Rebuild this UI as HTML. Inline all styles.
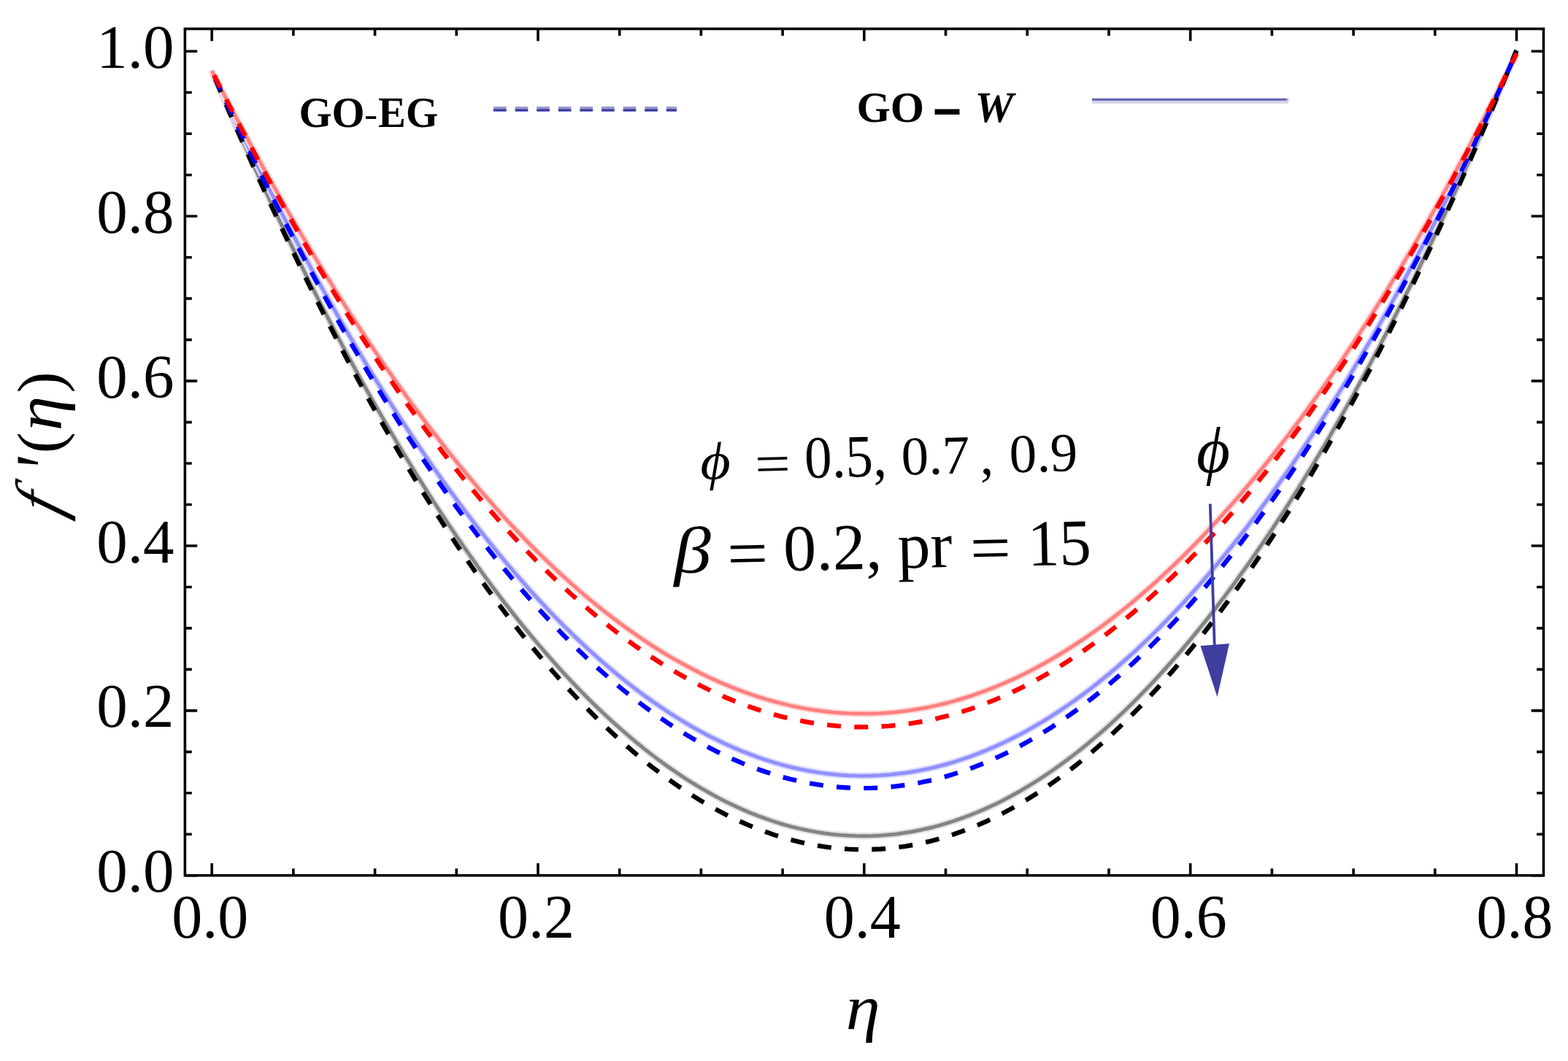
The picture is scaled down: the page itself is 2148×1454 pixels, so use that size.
<!DOCTYPE html>
<html><head><meta charset="utf-8"><style>
html,body{margin:0;padding:0;background:#fff;}
svg{display:block;}
text{font-family:"Liberation Serif",serif;fill:#000;font-kerning:none;}
</style></head><body>
<svg width="2148" height="1454" viewBox="0 0 2148 1454">
<rect width="2148" height="1454" fill="#fff"/>
<rect x="253.4" y="39.5" width="1861.1" height="1160.2" fill="none" stroke="#000" stroke-width="3.6"/>
<path d="M290.2 1199.7V1182.9M290.2 39.5V56.3M401.9 1199.7V1190.3M401.9 39.5V48.9M513.6 1199.7V1190.3M513.6 39.5V48.9M625.3 1199.7V1190.3M625.3 39.5V48.9M737.0 1199.7V1182.9M737.0 39.5V56.3M848.7 1199.7V1190.3M848.7 39.5V48.9M960.4 1199.7V1190.3M960.4 39.5V48.9M1072.1 1199.7V1190.3M1072.1 39.5V48.9M1183.8 1199.7V1182.9M1183.8 39.5V56.3M1295.5 1199.7V1190.3M1295.5 39.5V48.9M1407.2 1199.7V1190.3M1407.2 39.5V48.9M1519.0 1199.7V1190.3M1519.0 39.5V48.9M1630.7 1199.7V1182.9M1630.7 39.5V56.3M1742.4 1199.7V1190.3M1742.4 39.5V48.9M1854.1 1199.7V1190.3M1854.1 39.5V48.9M1965.8 1199.7V1190.3M1965.8 39.5V48.9M2077.5 1199.7V1182.9M2077.5 39.5V56.3M253.4 1199.8H270.2M2114.5 1199.8H2097.7M253.4 1143.3H262.8M2114.5 1143.3H2105.1M253.4 1086.8H262.8M2114.5 1086.8H2105.1M253.4 1030.4H262.8M2114.5 1030.4H2105.1M253.4 973.9H270.2M2114.5 973.9H2097.7M253.4 917.4H262.8M2114.5 917.4H2105.1M253.4 860.9H262.8M2114.5 860.9H2105.1M253.4 804.5H262.8M2114.5 804.5H2105.1M253.4 748.0H270.2M2114.5 748.0H2097.7M253.4 691.5H262.8M2114.5 691.5H2105.1M253.4 635.0H262.8M2114.5 635.0H2105.1M253.4 578.6H262.8M2114.5 578.6H2105.1M253.4 522.1H270.2M2114.5 522.1H2097.7M253.4 465.6H262.8M2114.5 465.6H2105.1M253.4 409.1H262.8M2114.5 409.1H2105.1M253.4 352.7H262.8M2114.5 352.7H2105.1M253.4 296.2H270.2M2114.5 296.2H2097.7M253.4 239.7H262.8M2114.5 239.7H2105.1M253.4 183.2H262.8M2114.5 183.2H2105.1M253.4 126.8H262.8M2114.5 126.8H2105.1M253.4 70.3H270.2M2114.5 70.3H2097.7" stroke="#000" stroke-width="3.6" fill="none"/>
<path d="M290.2,97.1 L301.4,123.0 L312.5,148.6 L323.7,173.8 L334.9,198.8 L346.1,223.4 L357.2,247.7 L368.4,271.7 L379.6,295.3 L390.7,318.7 L401.9,341.7 L413.1,364.4 L424.2,386.8 L435.4,408.9 L446.6,430.6 L457.8,452.0 L468.9,473.1 L480.1,493.9 L491.3,514.4 L502.4,534.5 L513.6,554.3 L524.8,573.8 L536.0,593.0 L547.1,611.8 L558.3,630.3 L569.5,648.5 L580.6,666.4 L591.8,684.0 L603.0,701.2 L614.1,718.1 L625.3,734.7 L636.5,750.9 L647.7,766.8 L658.8,782.4 L670.0,797.7 L681.2,812.7 L692.3,827.3 L703.5,841.6 L714.7,855.6 L725.8,869.2 L737.0,882.5 L748.2,895.5 L759.4,908.2 L770.5,920.5 L781.7,932.5 L792.9,944.2 L804.0,955.6 L815.2,966.6 L826.4,977.3 L837.6,987.7 L848.7,997.7 L859.9,1007.4 L871.1,1016.8 L882.2,1025.9 L893.4,1034.6 L904.6,1043.0 L915.7,1051.1 L926.9,1058.8 L938.1,1066.3 L949.3,1073.3 L960.4,1080.1 L971.6,1086.5 L982.8,1092.6 L993.9,1098.4 L1005.1,1103.8 L1016.3,1108.9 L1027.5,1113.7 L1038.6,1118.1 L1049.8,1122.2 L1061.0,1126.0 L1072.1,1129.5 L1083.3,1132.6 L1094.5,1135.4 L1105.6,1137.8 L1116.8,1139.9 L1128.0,1141.7 L1139.2,1143.2 L1150.3,1144.3 L1161.5,1145.1 L1172.7,1145.6 L1183.8,1145.7 L1195.0,1145.5 L1206.2,1145.0 L1217.4,1144.1 L1228.5,1142.9 L1239.7,1141.3 L1250.9,1139.5 L1262.0,1137.3 L1273.2,1134.7 L1284.4,1131.9 L1295.5,1128.6 L1306.7,1125.1 L1317.9,1121.2 L1329.1,1117.0 L1340.2,1112.5 L1351.4,1107.6 L1362.6,1102.4 L1373.7,1096.9 L1384.9,1091.0 L1396.1,1084.8 L1407.2,1078.2 L1418.4,1071.3 L1429.6,1064.1 L1440.8,1056.5 L1451.9,1048.7 L1463.1,1040.4 L1474.3,1031.9 L1485.4,1023.0 L1496.6,1013.7 L1507.8,1004.2 L1519.0,994.3 L1530.1,984.0 L1541.3,973.5 L1552.5,962.5 L1563.6,951.3 L1574.8,939.7 L1586.0,927.8 L1597.1,915.5 L1608.3,902.9 L1619.5,890.0 L1630.7,876.7 L1641.8,863.1 L1653.0,849.2 L1664.2,834.9 L1675.3,820.3 L1686.5,805.4 L1697.7,790.1 L1708.9,774.5 L1720.0,758.5 L1731.2,742.2 L1742.4,725.6 L1753.5,708.6 L1764.7,691.3 L1775.9,673.6 L1787.0,655.6 L1798.2,637.3 L1809.4,618.7 L1820.6,599.7 L1831.7,580.3 L1842.9,560.7 L1854.1,540.7 L1865.2,520.3 L1876.4,499.6 L1887.6,478.6 L1898.8,457.2 L1909.9,435.5 L1921.1,413.5 L1932.3,391.1 L1943.4,368.4 L1954.6,345.4 L1965.8,322.0 L1976.9,298.3 L1988.1,274.2 L1999.3,249.8 L2010.5,225.0 L2021.6,200.0 L2032.8,174.6 L2044.0,148.8 L2055.1,122.7 L2066.3,96.3 L2077.5,69.5" stroke="#e2e2e2" stroke-width="9.5" fill="none"/>
<path d="M290.2,97.1 L301.4,123.0 L312.5,148.6 L323.7,173.8 L334.9,198.8 L346.1,223.4 L357.2,247.7 L368.4,271.7 L379.6,295.3 L390.7,318.7 L401.9,341.7 L413.1,364.4 L424.2,386.8 L435.4,408.9 L446.6,430.6 L457.8,452.0 L468.9,473.1 L480.1,493.9 L491.3,514.4 L502.4,534.5 L513.6,554.3 L524.8,573.8 L536.0,593.0 L547.1,611.8 L558.3,630.3 L569.5,648.5 L580.6,666.4 L591.8,684.0 L603.0,701.2 L614.1,718.1 L625.3,734.7 L636.5,750.9 L647.7,766.8 L658.8,782.4 L670.0,797.7 L681.2,812.7 L692.3,827.3 L703.5,841.6 L714.7,855.6 L725.8,869.2 L737.0,882.5 L748.2,895.5 L759.4,908.2 L770.5,920.5 L781.7,932.5 L792.9,944.2 L804.0,955.6 L815.2,966.6 L826.4,977.3 L837.6,987.7 L848.7,997.7 L859.9,1007.4 L871.1,1016.8 L882.2,1025.9 L893.4,1034.6 L904.6,1043.0 L915.7,1051.1 L926.9,1058.8 L938.1,1066.3 L949.3,1073.3 L960.4,1080.1 L971.6,1086.5 L982.8,1092.6 L993.9,1098.4 L1005.1,1103.8 L1016.3,1108.9 L1027.5,1113.7 L1038.6,1118.1 L1049.8,1122.2 L1061.0,1126.0 L1072.1,1129.5 L1083.3,1132.6 L1094.5,1135.4 L1105.6,1137.8 L1116.8,1139.9 L1128.0,1141.7 L1139.2,1143.2 L1150.3,1144.3 L1161.5,1145.1 L1172.7,1145.6 L1183.8,1145.7 L1195.0,1145.5 L1206.2,1145.0 L1217.4,1144.1 L1228.5,1142.9 L1239.7,1141.3 L1250.9,1139.5 L1262.0,1137.3 L1273.2,1134.7 L1284.4,1131.9 L1295.5,1128.6 L1306.7,1125.1 L1317.9,1121.2 L1329.1,1117.0 L1340.2,1112.5 L1351.4,1107.6 L1362.6,1102.4 L1373.7,1096.9 L1384.9,1091.0 L1396.1,1084.8 L1407.2,1078.2 L1418.4,1071.3 L1429.6,1064.1 L1440.8,1056.5 L1451.9,1048.7 L1463.1,1040.4 L1474.3,1031.9 L1485.4,1023.0 L1496.6,1013.7 L1507.8,1004.2 L1519.0,994.3 L1530.1,984.0 L1541.3,973.5 L1552.5,962.5 L1563.6,951.3 L1574.8,939.7 L1586.0,927.8 L1597.1,915.5 L1608.3,902.9 L1619.5,890.0 L1630.7,876.7 L1641.8,863.1 L1653.0,849.2 L1664.2,834.9 L1675.3,820.3 L1686.5,805.4 L1697.7,790.1 L1708.9,774.5 L1720.0,758.5 L1731.2,742.2 L1742.4,725.6 L1753.5,708.6 L1764.7,691.3 L1775.9,673.6 L1787.0,655.6 L1798.2,637.3 L1809.4,618.7 L1820.6,599.7 L1831.7,580.3 L1842.9,560.7 L1854.1,540.7 L1865.2,520.3 L1876.4,499.6 L1887.6,478.6 L1898.8,457.2 L1909.9,435.5 L1921.1,413.5 L1932.3,391.1 L1943.4,368.4 L1954.6,345.4 L1965.8,322.0 L1976.9,298.3 L1988.1,274.2 L1999.3,249.8 L2010.5,225.0 L2021.6,200.0 L2032.8,174.6 L2044.0,148.8 L2055.1,122.7 L2066.3,96.3 L2077.5,69.5" stroke="#848484" stroke-width="5" fill="none"/>
<path d="M290.2,97.1 L301.4,120.9 L312.5,144.5 L323.7,167.8 L334.9,190.8 L346.1,213.5 L357.2,235.8 L368.4,257.9 L379.6,279.8 L390.7,301.3 L401.9,322.5 L413.1,343.4 L424.2,364.0 L435.4,384.4 L446.6,404.4 L457.8,424.1 L468.9,443.6 L480.1,462.7 L491.3,481.6 L502.4,500.1 L513.6,518.4 L524.8,536.3 L536.0,554.0 L547.1,571.3 L558.3,588.4 L569.5,605.2 L580.6,621.6 L591.8,637.8 L603.0,653.7 L614.1,669.2 L625.3,684.5 L636.5,699.5 L647.7,714.2 L658.8,728.5 L670.0,742.6 L681.2,756.4 L692.3,769.9 L703.5,783.0 L714.7,795.9 L725.8,808.5 L737.0,820.8 L748.2,832.7 L759.4,844.4 L770.5,855.8 L781.7,866.8 L792.9,877.6 L804.0,888.1 L815.2,898.2 L826.4,908.1 L837.6,917.6 L848.7,926.9 L859.9,935.9 L871.1,944.5 L882.2,952.9 L893.4,960.9 L904.6,968.6 L915.7,976.1 L926.9,983.2 L938.1,990.0 L949.3,996.6 L960.4,1002.8 L971.6,1008.7 L982.8,1014.3 L993.9,1019.6 L1005.1,1024.6 L1016.3,1029.4 L1027.5,1033.7 L1038.6,1037.8 L1049.8,1041.6 L1061.0,1045.1 L1072.1,1048.3 L1083.3,1051.2 L1094.5,1053.7 L1105.6,1056.0 L1116.8,1057.9 L1128.0,1059.6 L1139.2,1060.9 L1150.3,1062.0 L1161.5,1062.7 L1172.7,1063.1 L1183.8,1063.2 L1195.0,1063.1 L1206.2,1062.6 L1217.4,1061.8 L1228.5,1060.6 L1239.7,1059.2 L1250.9,1057.5 L1262.0,1055.5 L1273.2,1053.1 L1284.4,1050.5 L1295.5,1047.5 L1306.7,1044.3 L1317.9,1040.7 L1329.1,1036.8 L1340.2,1032.6 L1351.4,1028.1 L1362.6,1023.3 L1373.7,1018.2 L1384.9,1012.8 L1396.1,1007.1 L1407.2,1001.1 L1418.4,994.7 L1429.6,988.1 L1440.8,981.1 L1451.9,973.8 L1463.1,966.3 L1474.3,958.4 L1485.4,950.2 L1496.6,941.7 L1507.8,932.8 L1519.0,923.7 L1530.1,914.3 L1541.3,904.5 L1552.5,894.5 L1563.6,884.1 L1574.8,873.5 L1586.0,862.5 L1597.1,851.2 L1608.3,839.6 L1619.5,827.7 L1630.7,815.4 L1641.8,802.9 L1653.0,790.1 L1664.2,776.9 L1675.3,763.4 L1686.5,749.7 L1697.7,735.6 L1708.9,721.2 L1720.0,706.5 L1731.2,691.5 L1742.4,676.1 L1753.5,660.5 L1764.7,644.6 L1775.9,628.3 L1787.0,611.7 L1798.2,594.8 L1809.4,577.7 L1820.6,560.1 L1831.7,542.3 L1842.9,524.2 L1854.1,505.8 L1865.2,487.0 L1876.4,468.0 L1887.6,448.6 L1898.8,428.9 L1909.9,408.9 L1921.1,388.6 L1932.3,368.0 L1943.4,347.1 L1954.6,325.8 L1965.8,304.3 L1976.9,282.4 L1988.1,260.3 L1999.3,237.8 L2010.5,215.0 L2021.6,191.9 L2032.8,168.5 L2044.0,144.7 L2055.1,120.7 L2066.3,96.3 L2077.5,71.7" stroke="#dcdcff" stroke-width="9.5" fill="none"/>
<path d="M290.2,97.1 L301.4,120.9 L312.5,144.5 L323.7,167.8 L334.9,190.8 L346.1,213.5 L357.2,235.8 L368.4,257.9 L379.6,279.8 L390.7,301.3 L401.9,322.5 L413.1,343.4 L424.2,364.0 L435.4,384.4 L446.6,404.4 L457.8,424.1 L468.9,443.6 L480.1,462.7 L491.3,481.6 L502.4,500.1 L513.6,518.4 L524.8,536.3 L536.0,554.0 L547.1,571.3 L558.3,588.4 L569.5,605.2 L580.6,621.6 L591.8,637.8 L603.0,653.7 L614.1,669.2 L625.3,684.5 L636.5,699.5 L647.7,714.2 L658.8,728.5 L670.0,742.6 L681.2,756.4 L692.3,769.9 L703.5,783.0 L714.7,795.9 L725.8,808.5 L737.0,820.8 L748.2,832.7 L759.4,844.4 L770.5,855.8 L781.7,866.8 L792.9,877.6 L804.0,888.1 L815.2,898.2 L826.4,908.1 L837.6,917.6 L848.7,926.9 L859.9,935.9 L871.1,944.5 L882.2,952.9 L893.4,960.9 L904.6,968.6 L915.7,976.1 L926.9,983.2 L938.1,990.0 L949.3,996.6 L960.4,1002.8 L971.6,1008.7 L982.8,1014.3 L993.9,1019.6 L1005.1,1024.6 L1016.3,1029.4 L1027.5,1033.7 L1038.6,1037.8 L1049.8,1041.6 L1061.0,1045.1 L1072.1,1048.3 L1083.3,1051.2 L1094.5,1053.7 L1105.6,1056.0 L1116.8,1057.9 L1128.0,1059.6 L1139.2,1060.9 L1150.3,1062.0 L1161.5,1062.7 L1172.7,1063.1 L1183.8,1063.2 L1195.0,1063.1 L1206.2,1062.6 L1217.4,1061.8 L1228.5,1060.6 L1239.7,1059.2 L1250.9,1057.5 L1262.0,1055.5 L1273.2,1053.1 L1284.4,1050.5 L1295.5,1047.5 L1306.7,1044.3 L1317.9,1040.7 L1329.1,1036.8 L1340.2,1032.6 L1351.4,1028.1 L1362.6,1023.3 L1373.7,1018.2 L1384.9,1012.8 L1396.1,1007.1 L1407.2,1001.1 L1418.4,994.7 L1429.6,988.1 L1440.8,981.1 L1451.9,973.8 L1463.1,966.3 L1474.3,958.4 L1485.4,950.2 L1496.6,941.7 L1507.8,932.8 L1519.0,923.7 L1530.1,914.3 L1541.3,904.5 L1552.5,894.5 L1563.6,884.1 L1574.8,873.5 L1586.0,862.5 L1597.1,851.2 L1608.3,839.6 L1619.5,827.7 L1630.7,815.4 L1641.8,802.9 L1653.0,790.1 L1664.2,776.9 L1675.3,763.4 L1686.5,749.7 L1697.7,735.6 L1708.9,721.2 L1720.0,706.5 L1731.2,691.5 L1742.4,676.1 L1753.5,660.5 L1764.7,644.6 L1775.9,628.3 L1787.0,611.7 L1798.2,594.8 L1809.4,577.7 L1820.6,560.1 L1831.7,542.3 L1842.9,524.2 L1854.1,505.8 L1865.2,487.0 L1876.4,468.0 L1887.6,448.6 L1898.8,428.9 L1909.9,408.9 L1921.1,388.6 L1932.3,368.0 L1943.4,347.1 L1954.6,325.8 L1965.8,304.3 L1976.9,282.4 L1988.1,260.3 L1999.3,237.8 L2010.5,215.0 L2021.6,191.9 L2032.8,168.5 L2044.0,144.7 L2055.1,120.7 L2066.3,96.3 L2077.5,71.7" stroke="#9090ff" stroke-width="5" fill="none"/>
<path d="M290.2,97.1 L301.4,118.8 L312.5,140.3 L323.7,161.5 L334.9,182.5 L346.1,203.2 L357.2,223.6 L368.4,243.8 L379.6,263.6 L390.7,283.3 L401.9,302.6 L413.1,321.7 L424.2,340.5 L435.4,359.0 L446.6,377.3 L457.8,395.3 L468.9,413.0 L480.1,430.5 L491.3,447.7 L502.4,464.6 L513.6,481.2 L524.8,497.6 L536.0,513.7 L547.1,529.5 L558.3,545.1 L569.5,560.4 L580.6,575.4 L591.8,590.1 L603.0,604.6 L614.1,618.8 L625.3,632.7 L636.5,646.4 L647.7,659.8 L658.8,672.9 L670.0,685.7 L681.2,698.3 L692.3,710.6 L703.5,722.6 L714.7,734.3 L725.8,745.8 L737.0,757.0 L748.2,767.9 L759.4,778.5 L770.5,788.9 L781.7,799.0 L792.9,808.8 L804.0,818.3 L815.2,827.6 L826.4,836.6 L837.6,845.3 L848.7,853.8 L859.9,861.9 L871.1,869.8 L882.2,877.4 L893.4,884.8 L904.6,891.8 L915.7,898.6 L926.9,905.1 L938.1,911.3 L949.3,917.3 L960.4,923.0 L971.6,928.4 L982.8,933.5 L993.9,938.3 L1005.1,942.9 L1016.3,947.2 L1027.5,951.2 L1038.6,954.9 L1049.8,958.4 L1061.0,961.5 L1072.1,964.4 L1083.3,967.1 L1094.5,969.4 L1105.6,971.5 L1116.8,973.2 L1128.0,974.7 L1139.2,976.0 L1150.3,976.9 L1161.5,977.6 L1172.7,978.0 L1183.8,978.1 L1195.0,977.9 L1206.2,977.5 L1217.4,976.7 L1228.5,975.7 L1239.7,974.4 L1250.9,972.8 L1262.0,971.0 L1273.2,968.9 L1284.4,966.4 L1295.5,963.8 L1306.7,960.8 L1317.9,957.5 L1329.1,954.0 L1340.2,950.2 L1351.4,946.1 L1362.6,941.7 L1373.7,937.0 L1384.9,932.1 L1396.1,926.9 L1407.2,921.4 L1418.4,915.6 L1429.6,909.5 L1440.8,903.2 L1451.9,896.5 L1463.1,889.6 L1474.3,882.4 L1485.4,875.0 L1496.6,867.2 L1507.8,859.2 L1519.0,850.9 L1530.1,842.3 L1541.3,833.4 L1552.5,824.2 L1563.6,814.7 L1574.8,805.0 L1586.0,795.0 L1597.1,784.7 L1608.3,774.1 L1619.5,763.3 L1630.7,752.1 L1641.8,740.7 L1653.0,729.0 L1664.2,717.0 L1675.3,704.7 L1686.5,692.1 L1697.7,679.3 L1708.9,666.2 L1720.0,652.8 L1731.2,639.1 L1742.4,625.1 L1753.5,610.8 L1764.7,596.3 L1775.9,581.5 L1787.0,566.4 L1798.2,551.0 L1809.4,535.3 L1820.6,519.3 L1831.7,503.1 L1842.9,486.6 L1854.1,469.7 L1865.2,452.7 L1876.4,435.3 L1887.6,417.6 L1898.8,399.7 L1909.9,381.4 L1921.1,362.9 L1932.3,344.1 L1943.4,325.0 L1954.6,305.7 L1965.8,286.0 L1976.9,266.1 L1988.1,245.9 L1999.3,225.4 L2010.5,204.6 L2021.6,183.5 L2032.8,162.2 L2044.0,140.5 L2055.1,118.6 L2066.3,96.4 L2077.5,73.9" stroke="#ffdcdc" stroke-width="9.5" fill="none"/>
<path d="M290.2,97.1 L301.4,118.8 L312.5,140.3 L323.7,161.5 L334.9,182.5 L346.1,203.2 L357.2,223.6 L368.4,243.8 L379.6,263.6 L390.7,283.3 L401.9,302.6 L413.1,321.7 L424.2,340.5 L435.4,359.0 L446.6,377.3 L457.8,395.3 L468.9,413.0 L480.1,430.5 L491.3,447.7 L502.4,464.6 L513.6,481.2 L524.8,497.6 L536.0,513.7 L547.1,529.5 L558.3,545.1 L569.5,560.4 L580.6,575.4 L591.8,590.1 L603.0,604.6 L614.1,618.8 L625.3,632.7 L636.5,646.4 L647.7,659.8 L658.8,672.9 L670.0,685.7 L681.2,698.3 L692.3,710.6 L703.5,722.6 L714.7,734.3 L725.8,745.8 L737.0,757.0 L748.2,767.9 L759.4,778.5 L770.5,788.9 L781.7,799.0 L792.9,808.8 L804.0,818.3 L815.2,827.6 L826.4,836.6 L837.6,845.3 L848.7,853.8 L859.9,861.9 L871.1,869.8 L882.2,877.4 L893.4,884.8 L904.6,891.8 L915.7,898.6 L926.9,905.1 L938.1,911.3 L949.3,917.3 L960.4,923.0 L971.6,928.4 L982.8,933.5 L993.9,938.3 L1005.1,942.9 L1016.3,947.2 L1027.5,951.2 L1038.6,954.9 L1049.8,958.4 L1061.0,961.5 L1072.1,964.4 L1083.3,967.1 L1094.5,969.4 L1105.6,971.5 L1116.8,973.2 L1128.0,974.7 L1139.2,976.0 L1150.3,976.9 L1161.5,977.6 L1172.7,978.0 L1183.8,978.1 L1195.0,977.9 L1206.2,977.5 L1217.4,976.7 L1228.5,975.7 L1239.7,974.4 L1250.9,972.8 L1262.0,971.0 L1273.2,968.9 L1284.4,966.4 L1295.5,963.8 L1306.7,960.8 L1317.9,957.5 L1329.1,954.0 L1340.2,950.2 L1351.4,946.1 L1362.6,941.7 L1373.7,937.0 L1384.9,932.1 L1396.1,926.9 L1407.2,921.4 L1418.4,915.6 L1429.6,909.5 L1440.8,903.2 L1451.9,896.5 L1463.1,889.6 L1474.3,882.4 L1485.4,875.0 L1496.6,867.2 L1507.8,859.2 L1519.0,850.9 L1530.1,842.3 L1541.3,833.4 L1552.5,824.2 L1563.6,814.7 L1574.8,805.0 L1586.0,795.0 L1597.1,784.7 L1608.3,774.1 L1619.5,763.3 L1630.7,752.1 L1641.8,740.7 L1653.0,729.0 L1664.2,717.0 L1675.3,704.7 L1686.5,692.1 L1697.7,679.3 L1708.9,666.2 L1720.0,652.8 L1731.2,639.1 L1742.4,625.1 L1753.5,610.8 L1764.7,596.3 L1775.9,581.5 L1787.0,566.4 L1798.2,551.0 L1809.4,535.3 L1820.6,519.3 L1831.7,503.1 L1842.9,486.6 L1854.1,469.7 L1865.2,452.7 L1876.4,435.3 L1887.6,417.6 L1898.8,399.7 L1909.9,381.4 L1921.1,362.9 L1932.3,344.1 L1943.4,325.0 L1954.6,305.7 L1965.8,286.0 L1976.9,266.1 L1988.1,245.9 L1999.3,225.4 L2010.5,204.6 L2021.6,183.5 L2032.8,162.2 L2044.0,140.5 L2055.1,118.6 L2066.3,96.4 L2077.5,73.9" stroke="#ff8080" stroke-width="5" fill="none"/>
<path d="M290.2,97.1 L301.4,123.4 L312.5,149.5 L323.7,175.2 L334.9,200.6 L346.1,225.6 L357.2,250.4 L368.4,274.8 L379.6,298.8 L390.7,322.6 L401.9,346.0 L413.1,369.1 L424.2,391.9 L435.4,414.4 L446.6,436.5 L457.8,458.3 L468.9,479.8 L480.1,500.9 L491.3,521.7 L502.4,542.2 L513.6,562.4 L524.8,582.2 L536.0,601.7 L547.1,620.9 L558.3,639.8 L569.5,658.3 L580.6,676.5 L591.8,694.3 L603.0,711.8 L614.1,729.0 L625.3,745.9 L636.5,762.5 L647.7,778.7 L658.8,794.5 L670.0,810.1 L681.2,825.3 L692.3,840.2 L703.5,854.7 L714.7,868.9 L725.8,882.8 L737.0,896.4 L748.2,909.6 L759.4,922.5 L770.5,935.1 L781.7,947.3 L792.9,959.2 L804.0,970.7 L815.2,982.0 L826.4,992.9 L837.6,1003.4 L848.7,1013.6 L859.9,1023.5 L871.1,1033.1 L882.2,1042.3 L893.4,1051.2 L904.6,1059.7 L915.7,1067.9 L926.9,1075.8 L938.1,1083.4 L949.3,1090.6 L960.4,1097.5 L971.6,1104.0 L982.8,1110.2 L993.9,1116.1 L1005.1,1121.6 L1016.3,1126.8 L1027.5,1131.6 L1038.6,1136.2 L1049.8,1140.3 L1061.0,1144.2 L1072.1,1147.7 L1083.3,1150.9 L1094.5,1153.7 L1105.6,1156.2 L1116.8,1158.4 L1128.0,1160.2 L1139.2,1161.7 L1150.3,1162.8 L1161.5,1163.6 L1172.7,1164.1 L1183.8,1164.2 L1195.0,1164.0 L1206.2,1163.5 L1217.4,1162.6 L1228.5,1161.3 L1239.7,1159.8 L1250.9,1157.9 L1262.0,1155.6 L1273.2,1153.1 L1284.4,1150.1 L1295.5,1146.9 L1306.7,1143.3 L1317.9,1139.3 L1329.1,1135.0 L1340.2,1130.4 L1351.4,1125.5 L1362.6,1120.2 L1373.7,1114.5 L1384.9,1108.5 L1396.1,1102.2 L1407.2,1095.5 L1418.4,1088.5 L1429.6,1081.2 L1440.8,1073.5 L1451.9,1065.5 L1463.1,1057.1 L1474.3,1048.4 L1485.4,1039.3 L1496.6,1029.9 L1507.8,1020.2 L1519.0,1010.1 L1530.1,999.7 L1541.3,988.9 L1552.5,977.8 L1563.6,966.4 L1574.8,954.6 L1586.0,942.5 L1597.1,930.0 L1608.3,917.2 L1619.5,904.0 L1630.7,890.5 L1641.8,876.7 L1653.0,862.5 L1664.2,848.0 L1675.3,833.1 L1686.5,817.9 L1697.7,802.3 L1708.9,786.4 L1720.0,770.2 L1731.2,753.6 L1742.4,736.7 L1753.5,719.4 L1764.7,701.8 L1775.9,683.8 L1787.0,665.5 L1798.2,646.9 L1809.4,627.9 L1820.6,608.5 L1831.7,588.9 L1842.9,568.8 L1854.1,548.5 L1865.2,527.8 L1876.4,506.7 L1887.6,485.3 L1898.8,463.6 L1909.9,441.5 L1921.1,419.1 L1932.3,396.3 L1943.4,373.2 L1954.6,349.8 L1965.8,326.0 L1976.9,301.8 L1988.1,277.3 L1999.3,252.5 L2010.5,227.3 L2021.6,201.8 L2032.8,175.9 L2044.0,149.7 L2055.1,123.2 L2066.3,96.3 L2077.5,69.0" stroke="#000000" stroke-width="6.4" fill="none" stroke-dasharray="19 18.3" stroke-dashoffset="24.72"/>
<path d="M290.2,97.1 L301.4,121.3 L312.5,145.3 L323.7,169.0 L334.9,192.4 L346.1,215.5 L357.2,238.3 L368.4,260.7 L379.6,282.9 L390.7,304.8 L401.9,326.4 L413.1,347.7 L424.2,368.7 L435.4,389.4 L446.6,409.7 L457.8,429.8 L468.9,449.6 L480.1,469.1 L491.3,488.3 L502.4,507.1 L513.6,525.7 L524.8,544.0 L536.0,561.9 L547.1,579.6 L558.3,597.0 L569.5,614.0 L580.6,630.8 L591.8,647.2 L603.0,663.4 L614.1,679.2 L625.3,694.8 L636.5,710.0 L647.7,724.9 L658.8,739.5 L670.0,753.9 L681.2,767.9 L692.3,781.6 L703.5,795.0 L714.7,808.1 L725.8,820.9 L737.0,833.4 L748.2,845.5 L759.4,857.4 L770.5,869.0 L781.7,880.2 L792.9,891.2 L804.0,901.8 L815.2,912.2 L826.4,922.2 L837.6,931.9 L848.7,941.4 L859.9,950.5 L871.1,959.3 L882.2,967.8 L893.4,975.9 L904.6,983.8 L915.7,991.4 L926.9,998.7 L938.1,1005.6 L949.3,1012.2 L960.4,1018.6 L971.6,1024.6 L982.8,1030.3 L993.9,1035.7 L1005.1,1040.8 L1016.3,1045.6 L1027.5,1050.1 L1038.6,1054.2 L1049.8,1058.1 L1061.0,1061.6 L1072.1,1064.9 L1083.3,1067.8 L1094.5,1070.4 L1105.6,1072.7 L1116.8,1074.7 L1128.0,1076.4 L1139.2,1077.7 L1150.3,1078.8 L1161.5,1079.5 L1172.7,1080.0 L1183.8,1080.1 L1195.0,1079.9 L1206.2,1079.4 L1217.4,1078.6 L1228.5,1077.4 L1239.7,1076.0 L1250.9,1074.2 L1262.0,1072.2 L1273.2,1069.8 L1284.4,1067.1 L1295.5,1064.1 L1306.7,1060.8 L1317.9,1057.1 L1329.1,1053.2 L1340.2,1048.9 L1351.4,1044.4 L1362.6,1039.5 L1373.7,1034.3 L1384.9,1028.8 L1396.1,1022.9 L1407.2,1016.8 L1418.4,1010.4 L1429.6,1003.6 L1440.8,996.5 L1451.9,989.1 L1463.1,981.4 L1474.3,973.4 L1485.4,965.0 L1496.6,956.4 L1507.8,947.4 L1519.0,938.1 L1530.1,928.5 L1541.3,918.6 L1552.5,908.4 L1563.6,897.8 L1574.8,887.0 L1586.0,875.8 L1597.1,864.3 L1608.3,852.5 L1619.5,840.4 L1630.7,828.0 L1641.8,815.2 L1653.0,802.1 L1664.2,788.7 L1675.3,775.1 L1686.5,761.0 L1697.7,746.7 L1708.9,732.1 L1720.0,717.1 L1731.2,701.8 L1742.4,686.2 L1753.5,670.3 L1764.7,654.1 L1775.9,637.5 L1787.0,620.7 L1798.2,603.5 L1809.4,586.0 L1820.6,568.2 L1831.7,550.1 L1842.9,531.6 L1854.1,512.9 L1865.2,493.8 L1876.4,474.4 L1887.6,454.7 L1898.8,434.7 L1909.9,414.4 L1921.1,393.7 L1932.3,372.7 L1943.4,351.4 L1954.6,329.8 L1965.8,307.9 L1976.9,285.7 L1988.1,263.1 L1999.3,240.2 L2010.5,217.0 L2021.6,193.5 L2032.8,169.7 L2044.0,145.6 L2055.1,121.1 L2066.3,96.3 L2077.5,71.2" stroke="#0000ff" stroke-width="6.4" fill="none" stroke-dasharray="19 18.3" stroke-dashoffset="27.82"/>
<path d="M290.2,97.1 L301.4,119.3 L312.5,141.2 L323.7,162.9 L334.9,184.3 L346.1,205.4 L357.2,226.2 L368.4,246.8 L379.6,267.1 L390.7,287.1 L401.9,306.9 L413.1,326.3 L424.2,345.5 L435.4,364.4 L446.6,383.1 L457.8,401.5 L468.9,419.5 L480.1,437.4 L491.3,454.9 L502.4,472.2 L513.6,489.2 L524.8,505.9 L536.0,522.3 L547.1,538.5 L558.3,554.3 L569.5,569.9 L580.6,585.3 L591.8,600.3 L603.0,615.1 L614.1,629.6 L625.3,643.8 L636.5,657.7 L647.7,671.4 L658.8,684.8 L670.0,697.9 L681.2,710.7 L692.3,723.2 L703.5,735.5 L714.7,747.5 L725.8,759.2 L737.0,770.6 L748.2,781.7 L759.4,792.6 L770.5,803.2 L781.7,813.5 L792.9,823.5 L804.0,833.2 L815.2,842.7 L826.4,851.9 L837.6,860.8 L848.7,869.4 L859.9,877.7 L871.1,885.8 L882.2,893.5 L893.4,901.0 L904.6,908.2 L915.7,915.1 L926.9,921.8 L938.1,928.1 L949.3,934.2 L960.4,940.0 L971.6,945.5 L982.8,950.7 L993.9,955.7 L1005.1,960.3 L1016.3,964.7 L1027.5,968.8 L1038.6,972.6 L1049.8,976.1 L1061.0,979.4 L1072.1,982.3 L1083.3,985.0 L1094.5,987.4 L1105.6,989.5 L1116.8,991.3 L1128.0,992.9 L1139.2,994.1 L1150.3,995.1 L1161.5,995.8 L1172.7,996.2 L1183.8,996.3 L1195.0,996.1 L1206.2,995.6 L1217.4,994.9 L1228.5,993.8 L1239.7,992.5 L1250.9,990.9 L1262.0,989.0 L1273.2,986.9 L1284.4,984.4 L1295.5,981.6 L1306.7,978.6 L1317.9,975.3 L1329.1,971.7 L1340.2,967.8 L1351.4,963.6 L1362.6,959.1 L1373.7,954.4 L1384.9,949.3 L1396.1,944.0 L1407.2,938.4 L1418.4,932.5 L1429.6,926.3 L1440.8,919.8 L1451.9,913.1 L1463.1,906.0 L1474.3,898.7 L1485.4,891.0 L1496.6,883.1 L1507.8,874.9 L1519.0,866.4 L1530.1,857.6 L1541.3,848.6 L1552.5,839.2 L1563.6,829.6 L1574.8,819.6 L1586.0,809.4 L1597.1,798.9 L1608.3,788.1 L1619.5,777.0 L1630.7,765.6 L1641.8,754.0 L1653.0,742.0 L1664.2,729.8 L1675.3,717.2 L1686.5,704.4 L1697.7,691.3 L1708.9,677.9 L1720.0,664.2 L1731.2,650.3 L1742.4,636.0 L1753.5,621.4 L1764.7,606.6 L1775.9,591.5 L1787.0,576.0 L1798.2,560.3 L1809.4,544.3 L1820.6,528.0 L1831.7,511.5 L1842.9,494.6 L1854.1,477.4 L1865.2,460.0 L1876.4,442.3 L1887.6,424.2 L1898.8,405.9 L1909.9,387.3 L1921.1,368.4 L1932.3,349.2 L1943.4,329.7 L1954.6,310.0 L1965.8,289.9 L1976.9,269.6 L1988.1,248.9 L1999.3,228.0 L2010.5,206.8 L2021.6,185.3 L2032.8,163.5 L2044.0,141.4 L2055.1,119.1 L2066.3,96.4 L2077.5,73.4" stroke="#ff0000" stroke-width="6.4" fill="none" stroke-dasharray="19 18.3" stroke-dashoffset="30.85"/>
<text x="238.5" y="1222.3" font-size="85" text-anchor="end">0.0</text>
<text x="238.5" y="996.4" font-size="85" text-anchor="end">0.2</text>
<text x="238.5" y="770.5" font-size="85" text-anchor="end">0.4</text>
<text x="238.5" y="544.6" font-size="85" text-anchor="end">0.6</text>
<text x="238.5" y="318.7" font-size="85" text-anchor="end">0.8</text>
<text x="238.5" y="92.8" font-size="85" text-anchor="end">1.0</text>
<text x="287.7" y="1285" font-size="84" text-anchor="middle">0.0</text>
<text x="734.5" y="1285" font-size="84" text-anchor="middle">0.2</text>
<text x="1181.3" y="1285" font-size="84" text-anchor="middle">0.4</text>
<text x="1628.2" y="1285" font-size="84" text-anchor="middle">0.6</text>
<text x="2075.0" y="1285" font-size="84" text-anchor="middle">0.8</text>
<text transform="translate(409.47 174.42) scale(0.975 1)" font-size="59.5" font-weight="bold">GO</text>
<text transform="translate(499.00 172.20) scale(0.92 0.75)" font-size="59.5" font-weight="bold">-</text>
<text transform="translate(518.03 174.42) scale(0.955 1)" font-size="59.5" font-weight="bold">EG</text>
<path d="M676 147.6H927" stroke="#9b9bcd" stroke-width="3.3" stroke-dasharray="17.7 11.9"/>
<path d="M676 151.0H927" stroke="#3a3aa0" stroke-width="3.4" stroke-dasharray="17.7 11.9"/>
<text transform="translate(1173.59 167.22)" font-size="59.5" font-weight="bold">GO</text>
<text transform="translate(1280.95 177.91) scale(1 1.6)" font-size="66" font-weight="bold">–</text>
<text transform="translate(1335.40 166.90)" font-size="59.5" font-weight="bold" font-style="italic">W</text>
<path d="M1496 136.35H1762" stroke="#6969b4" stroke-width="3.2"/>
<path d="M1496 139.9H1765" stroke="#d2d2e8" stroke-width="3.7"/>
<path d="M1762 136.35H1765" stroke="#ababd4" stroke-width="3.2"/>
<text transform="translate(959.86 656.96) rotate(-1.5) scale(1.1 1)" font-size="73" font-style="italic">ϕ</text>
<text transform="translate(1034.70 661.50) rotate(-1.5) scale(1.15 1)" font-size="75">=</text>
<text transform="translate(1102.74 655.00) rotate(-1.5) scale(1 1.1)" font-size="75">0.5,</text>
<text transform="translate(1235.24 650.80) rotate(-1.5)" font-size="75">0.7</text>
<text transform="translate(1342.64 650.00) rotate(-1.5)" font-size="75">,</text>
<text transform="translate(1383.14 647.40) rotate(-1.5)" font-size="75">0.9</text>
<text transform="translate(923.17 785.24) rotate(-1.25) scale(1.15 1)" font-size="90" font-style="italic">β</text>
<text transform="translate(996.85 790.00) rotate(-1.25) scale(1.08 1)" font-size="92">=</text>
<text transform="translate(1073.77 782.00) rotate(-1.25)" font-size="90">0.2,</text>
<text transform="translate(1229.95 778.50) rotate(-1.25)" font-size="90">pr</text>
<text transform="translate(1329.45 782.50) rotate(-1.25) scale(1.08 1)" font-size="92">=</text>
<text transform="translate(1408.23 775.30) rotate(-1.25) scale(0.97 1)" font-size="90">15</text>
<text transform="translate(1638.96 647.05)" font-size="89" font-style="italic">ϕ</text>
<path d="M1657.8 690.5L1663.8 886" stroke="#3e3e9e" stroke-width="3.8" fill="none"/>
<path d="M1644.5 885L1684 882L1667.5 955Z" fill="#3e3e9e"/>
<text transform="translate(1158.63 1409.65) scale(1.1 1)" font-size="86" font-style="italic">η</text>
<g transform="translate(83.7 720.0) rotate(-90)"><text transform="translate(10.03 0.00) skewX(-17.5)" font-size="90" font-style="italic">f</text><text transform="translate(79.06 17.61) scale(1 1.3)" font-size="90">′</text><text transform="translate(98.68 0.00)" font-size="87">(</text><text transform="translate(129.57 0.00) scale(1.07 1)" font-size="90" font-style="italic">η</text><text transform="translate(181.50 0.00)" font-size="87">)</text></g>
</svg>
</body></html>
